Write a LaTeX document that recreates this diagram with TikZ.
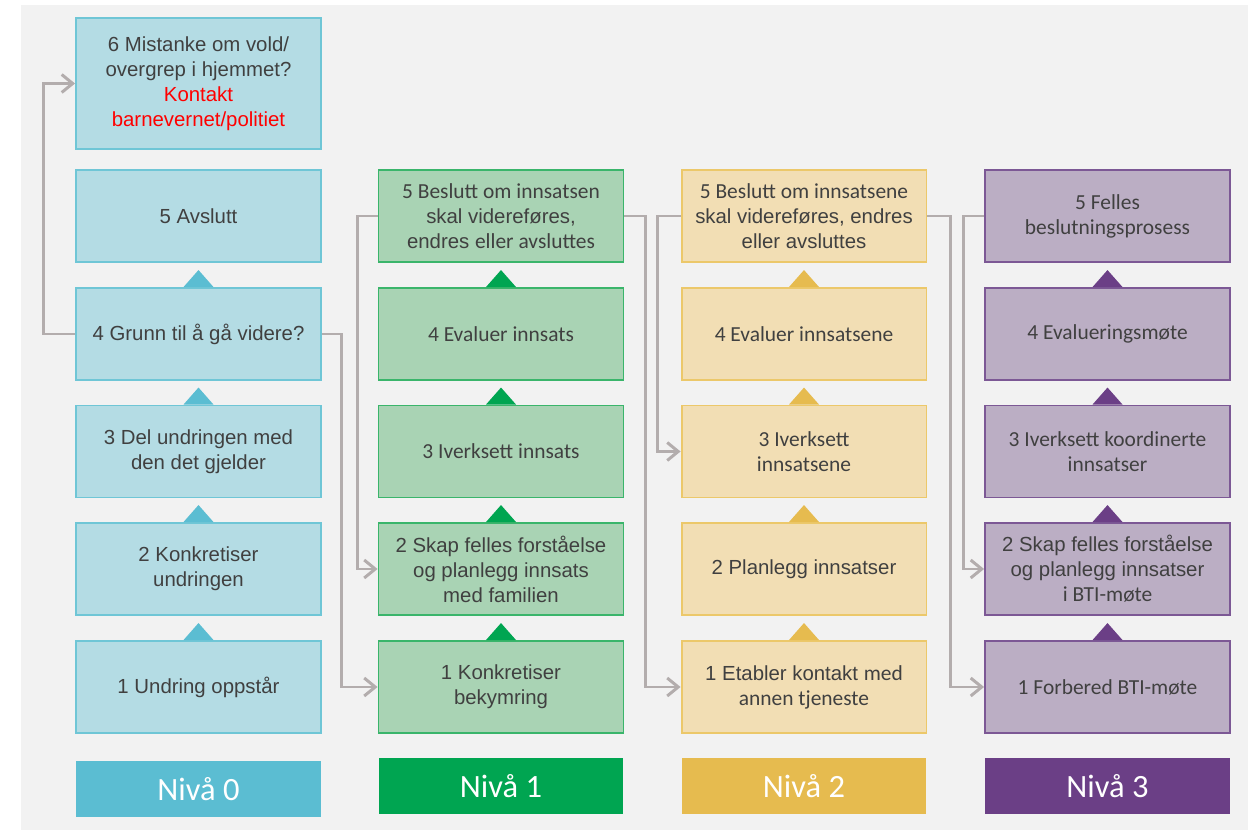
\documentclass[tikz,border=0pt]{standalone}
\usepackage{fontspec}
\setmainfont{Liberation Sans}
\newfontfamily\calfont{Carlito}
\usetikzlibrary{arrows.meta, calc, positioning}

\definecolor{bggray}{HTML}{F2F2F2}
\definecolor{txtgray}{HTML}{404040}
\definecolor{linkgray}{HTML}{B3ADAD}
\definecolor{aFill}{HTML}{B4DCE4}
\definecolor{aLine}{HTML}{6FC6D6}
\definecolor{aDark}{HTML}{5BBDD2}
\definecolor{bFill}{HTML}{A9D3B4}
\definecolor{bLine}{HTML}{3AB56B}
\definecolor{bDark}{HTML}{00A551}
\definecolor{cFill}{HTML}{F2DEB4}
\definecolor{cLine}{HTML}{ECC86A}
\definecolor{cDark}{HTML}{E6BB4F}
\definecolor{dFill}{HTML}{BBAEC4}
\definecolor{dLine}{HTML}{7C5895}
\definecolor{dDark}{HTML}{6B3F86}

\newcommand{\cf}{\calfont\fontsize{12.2}{14.2}\selectfont}

\tikzset{
	box/.style={draw, line width=1.1pt, minimum width=4.9cm, minimum height=1.84cm,
		inner sep=0pt, align=center, text=txtgray, font=\fontsize{11.6}{14.2}\selectfont},
	cal/.style={font=\cf},
	lvlA/.style={box, fill=aFill, draw=aLine},
	lvlB/.style={box, fill=bFill, draw=bLine},
	lvlC/.style={box, fill=cFill, draw=cLine},
	lvlD/.style={box, fill=dFill, draw=dLine},
	niva/.style={minimum width=4.9cm, minimum height=1.12cm, inner sep=0pt,
		text=white, font=\calfont\fontsize{18.5}{20}\selectfont},
	link/.style={draw=linkgray, line width=1.7pt},
	linkto/.style={link, -{Straight Barb[length=2.2mm,width=3.6mm]}}
}

\begin{document}
\begin{tikzpicture}[x=0.02cm, y=-0.02cm]
	\useasboundingbox[fill=white] (0,0) rectangle (1253,830);
	\fill[bggray] (21,5) rectangle (1248,830);
	
	% Nivaa 0
	\node[lvlA, minimum height=2.62cm] (a6) at (198.5,83.5) {6 Mistanke om vold/\\overgrep i hjemmet?\\\textcolor{red}{Kontakt}\\\textcolor{red}{barnevernet/politiet}};
	\node[lvlA] (a5) at (198.5,216) {5 Avslutt};
	\node[lvlA] (a4) at (198.5,334) {4 Grunn til å gå videre?};
	\node[lvlA] (a3) at (198.5,451.5) {3 Del undringen med\\den det gjelder};
	\node[lvlA] (a2) at (198.5,569) {2 Konkretiser\\undringen};
	\node[lvlA] (a1) at (198.5,687) {1 Undring oppstår};
	\node[niva, fill=aDark] (na) at (198.5,789) {Nivå 0};
	
	% Nivaa 1
	\node[lvlB] (b5) at (501,216) {{\cf 5 Beslutt om innsatsen}\\skal videreføres,\\endres {\cf eller avsluttes}};
	\node[lvlB, cal] (b4) at (501,334) {4 Evaluer innsats};
	\node[lvlB, cal] (b3) at (501,451.5) {3 Iverksett innsats};
	\node[lvlB] (b2) at (501,569) {2 Skap felles forståelse\\og planlegg innsats\\med familien};
	\node[lvlB] (b1) at (501,687) {1 Konkretiser\\bekymring};
	\node[niva, fill=bDark] (nb) at (501,786) {Nivå 1};
	
	% Nivaa 2
	\node[lvlC] (c5) at (804,216) {{\cf 5 Beslutt om innsatsene}\\skal videreføres, endres\\eller avsluttes};
	\node[lvlC, cal] (c4) at (804,334) {4 Evaluer innsatsene};
	\node[lvlC, cal] (c3) at (804,451.5) {3 Iverksett\\innsatsene};
	\node[lvlC] (c2) at (804,569) {2 Planlegg innsatser};
	\node[lvlC] (c1) at (804,687) {1 Etabler kontakt {\cf med}\\{\cf annen tjeneste}};
	\node[niva, fill=cDark] (nc) at (804,786) {Nivå 2};
	
	% Nivaa 3
	\node[lvlD, cal] (d5) at (1107.5,216) {5 Felles\\beslutningsprosess};
	\node[lvlD, cal] (d4) at (1107.5,334) {4 Evalueringsmøte};
	\node[lvlD, cal] (d3) at (1107.5,451.5) {3 Iverksett koordinerte\\innsatser};
	\node[lvlD] (d2) at (1107.5,569) {2 Skap felles forståelse\\og planlegg innsatser\\{\cf i BTI-møte}};
	\node[lvlD, cal] (d1) at (1107.5,687) {1 Forbered BTI-møte};
	\node[niva, fill=dDark] (nd) at (1107.5,786) {Nivå 3};
	
	% steps upward
	\foreach \c/\col in {a/aDark, b/bDark, c/cDark, d/dDark}
		\foreach \r in {1,...,4}
			\fill[\col] ($(\c\r.north)+(-15,0)$) -- ($(\c\r.north)+(15,0)$) -- ($(\c\r.north)+(0,-17)$) -- cycle;
	
	% connectors
	\draw[linkto] (a4.west) -- ++(-32,0) |- (a6.west);
	\draw[linkto] (a4.east) -- ++(20,0) |- (b1.west);
	\draw[linkto] (b5.west) -- ++(-20,0) |- (b2.west);
	\draw[linkto] (b5.east) -- ++(21,0) |- (c1.west);
	\draw[linkto] (c5.west) -- ++(-23,0) |- (c3.west);
	\draw[linkto] (c5.east) -- ++(23,0) |- (d1.west);
	\draw[linkto] (d5.west) -- ++(-21,0) |- (d2.west);
\end{tikzpicture}
\end{document}
